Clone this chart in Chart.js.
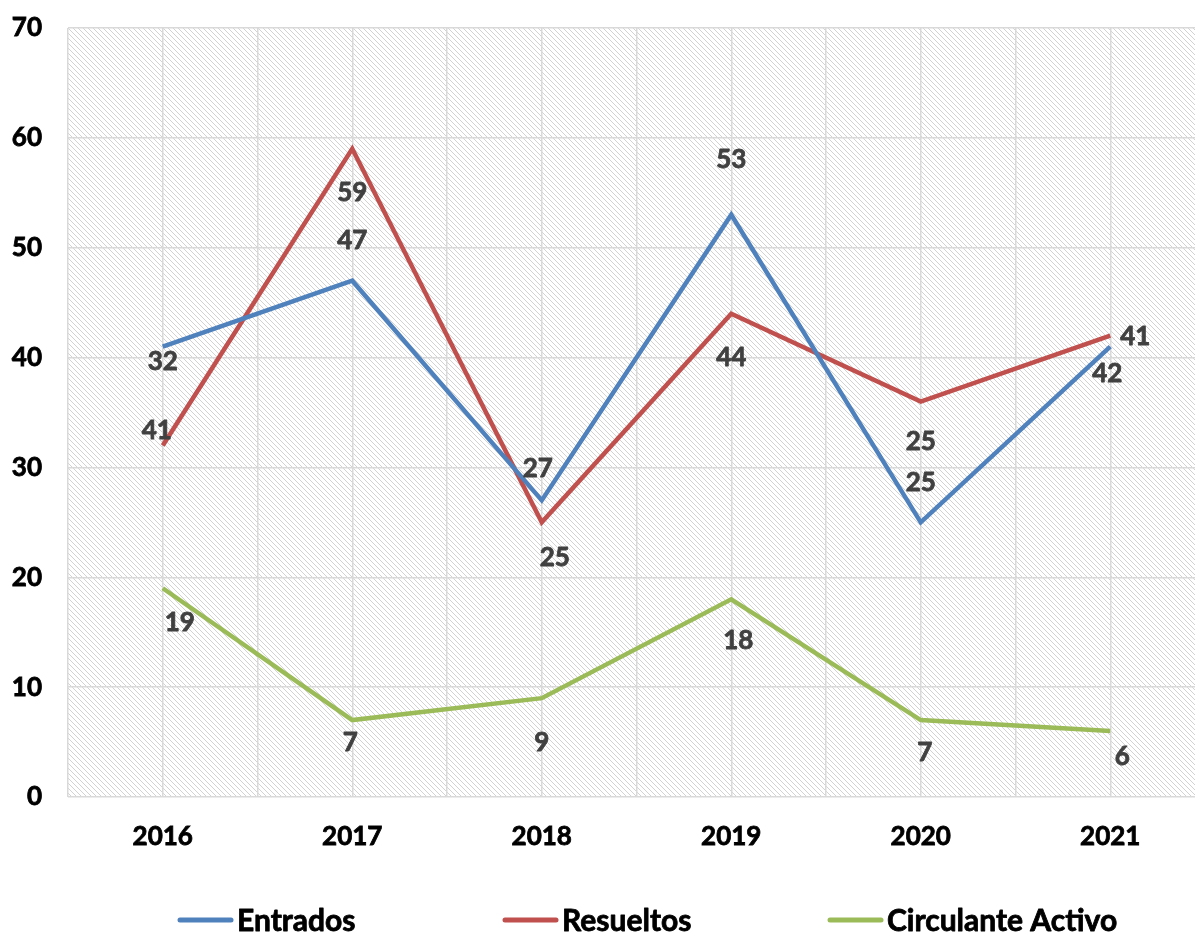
<!DOCTYPE html>
<html>
<head>
<meta charset="utf-8">
<script src="https://cdn.jsdelivr.net/npm/chart.js@4/dist/chart.umd.min.js"></script>
<style>
  html, body { margin: 0; padding: 0; background: #fff; overflow: hidden; }
  #wrap { width: 1195px; height: 934px; overflow: hidden; }
  canvas { display: block; }
</style>
</head>
<body>
<div id="wrap"><canvas id="lineChart" width="1210" height="934"></canvas></div>
<script>
// data
const years = ['2016', '2017', '2018', '2019', '2020', '2021'];
const entrados = [41, 47, 27, 53, 25, 41];
const resueltos = [32, 59, 25, 44, 36, 42];
const circulante = [19, 7, 9, 18, 7, 6];
// the printed labels don't match the lines in the original, keep them as shown
const entradosLabels = ['32', '47', '27', '53', '25', '42'];
const resueltosLabels = ['41', '59', '25', '44', '25', '41'];
const circulanteLabels = ['19', '7', '9', '18', '7', '6'];
const yTicks = [0, 10, 20, 30, 40, 50, 60, 70];

// label offsets from the point, [dx, dy] in px
const labelOffsets = [
    [[0, 15], [0, -40], [-4, -32], [0, -55], [0, -40], [-3, 27]],
    [[-6, -15], [0, 44], [13, 35], [0, 44], [0, 40], [25, 1]],
    [[17, 34], [-2, 23], [0, 44], [7, 41], [4, 33], [12, 26]]
];

const FONT = 'Lato, "Liberation Sans", sans-serif';

// diagonal hatch behind the plot
function makeHatch() {
    const c = document.createElement('canvas');
    c.width = 5; c.height = 5;
    const g = c.getContext('2d');
    g.fillStyle = '#ffffff';
    g.fillRect(0, 0, 5, 5);
    g.fillStyle = '#d2d2d2';
    for (let i = 0; i < 5; i++) g.fillRect(i, i, 1, 1);
    return c;
}

const hatchPlugin = {
    id: 'hatch',
    beforeDraw(chart) {
        const a = chart.chartArea;
        const ctx = chart.ctx;
        ctx.save();
        ctx.fillStyle = ctx.createPattern(makeHatch(), 'repeat');
        ctx.fillRect(a.left, a.top, a.right - a.left, a.bottom - a.top);
        ctx.restore();
    }
};

// bolder text: fill plus a thin stroke of the same colour
function heavyText(ctx, text, x, y, color) {
    ctx.fillStyle = color;
    ctx.strokeStyle = color;
    ctx.lineWidth = 0.8;
    ctx.lineJoin = 'round';
    ctx.strokeText(text, x, y);
    ctx.fillText(text, x, y);
}

const labelPlugin = {
    id: 'pointLabels',
    afterDatasetsDraw(chart) {
        const ctx = chart.ctx;
        ctx.save();
        ctx.font = 'bold 26px ' + FONT;
        ctx.textAlign = 'center';
        ctx.textBaseline = 'middle';
        chart.data.datasets.forEach((ds, i) => {
            chart.getDatasetMeta(i).data.forEach((pt, j) => {
                const off = labelOffsets[i][j];
                heavyText(ctx, ds.pointLabels[j], pt.x + off[0], pt.y + off[1], '#404040');
            });
        });
        ctx.restore();
    }
};

const legendPlugin = {
    id: 'bottomLegend',
    afterDraw(chart) {
        const ctx = chart.ctx;
        const y = 920;
        ctx.save();
        ctx.font = 'bold 30px ' + FONT;
        ctx.textBaseline = 'middle';
        ctx.textAlign = 'left';
        chart.data.datasets.forEach((ds, i) => {
            const x0 = 180 + i * 325;
            ctx.strokeStyle = ds.borderColor;
            ctx.lineWidth = 5;
            ctx.lineCap = 'round';
            ctx.beginPath();
            ctx.moveTo(x0, y);
            ctx.lineTo(x0 + 51, y);
            ctx.stroke();
            ctx.lineCap = 'butt';
            heavyText(ctx, ds.label, x0 + 57, y + 1, '#000000');
        });
        ctx.restore();
    }
};

const tickFont = { family: FONT, size: 26, weight: 'bold' };

const ctx = document.getElementById('lineChart').getContext('2d');

new Chart(ctx, {
    type: 'line',
    data: {
        labels: years,
        datasets: [{
            label: 'Entrados',
            data: entrados,
            pointLabels: entradosLabels,
            borderColor: '#4F81BD',
            borderWidth: 4.5
        }, {
            label: 'Resueltos',
            data: resueltos,
            pointLabels: resueltosLabels,
            borderColor: '#C0504D',
            borderWidth: 4.5
        }, {
            label: 'Circulante Activo',
            data: circulante,
            pointLabels: circulanteLabels,
            borderColor: '#9BBB59',
            borderWidth: 4.5
        }]
    },
    options: {
        responsive: false,
        animation: false,
        layout: { padding: { top: 28, right: 5, left: 0, bottom: 0 } },
        elements: {
            point: { radius: 0, hoverRadius: 0 },
            line: { tension: 0, borderJoinStyle: 'miter', borderCapStyle: 'butt' }
        },
        scales: {
            x: {
                type: 'category',
                offset: true,
                grid: { color: '#d9d9d9', lineWidth: 1.5, drawTicks: false },
                border: { display: false },
                ticks: {
                    color: '#000',
                    font: tickFont,
                    textStrokeColor: '#000',
                    textStrokeWidth: 0.8,
                    padding: 24,
                    maxRotation: 0
                },
                afterFit(scale) { scale.height = 137; }
            },
            x2: {
                type: 'category',
                labels: years,
                position: 'bottom',
                offset: true,
                grid: { color: '#d9d9d9', lineWidth: 1.5, offset: true, drawTicks: false },
                border: { display: false },
                ticks: { display: false },
                afterFit(scale) { scale.height = 0; }
            },
            y: {
                min: yTicks[0],
                max: yTicks[yTicks.length - 1],
                afterBuildTicks(scale) {
                    scale.ticks = yTicks.map(v => ({ value: v }));
                },
                grid: { color: '#d9d9d9', lineWidth: 1.5, drawTicks: false },
                border: { display: false },
                ticks: {
                    color: '#000',
                    font: tickFont,
                    textStrokeColor: '#000',
                    textStrokeWidth: 0.8,
                    padding: 26
                },
                afterFit(scale) {
                    scale.width = 68;
                    scale.paddingTop = 0;
                    scale.paddingBottom = 0;
                }
            }
        },
        plugins: {
            legend: { display: false },
            tooltip: { enabled: false }
        }
    },
    plugins: [hatchPlugin, labelPlugin, legendPlugin]
});
</script>
</body>
</html>
